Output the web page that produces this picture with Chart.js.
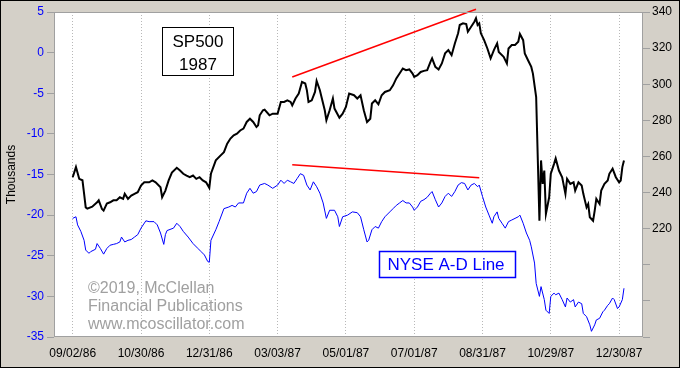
<!DOCTYPE html>
<html>
<head>
<meta charset="utf-8">
<script src="https://cdn.jsdelivr.net/npm/chart.js@4.4.1/dist/chart.umd.min.js"></script>
<style>
  html, body { margin: 0; padding: 0; background: #d4d0c8; }
  #wrap { width: 680px; height: 368px; }
</style>
</head>
<body>
<div id="wrap"><canvas id="chart" width="680" height="368"></canvas></div>
<script>
// x is a trading-day count from 09/02/86 (labels every 42 sessions)
const tickDays = [0, 42, 84, 126, 168, 210, 252, 294, 336]
const tickLabels = ['09/02/86', '10/30/86', '12/31/86', '03/03/87', '05/01/87',
  '07/01/87', '08/31/87', '10/29/87', '12/30/87']

// SP500 close (right axis)
const spDays = [
  0, 2, 4, 6, 7, 8, 9, 12, 15, 16, 18, 19, 21, 23, 25,
  27, 29, 31, 32, 34, 36, 38, 40, 42, 44, 47, 49, 51, 54, 55,
  57, 59, 61, 64, 66, 68, 70, 72, 74, 76, 78, 80, 82, 84, 85,
  88, 91, 93, 95, 97, 99, 101, 103, 105, 107, 109, 111, 113, 114, 115,
  117, 118, 121, 123, 126, 128, 130, 132, 134, 135, 137, 139, 141, 143, 144,
  145, 147, 149, 150, 152, 153, 155, 156, 158, 160, 161, 164, 166, 168, 170,
  173, 175, 177, 179, 181, 183, 184, 186, 188, 190, 192, 195, 197, 199, 201,
  203, 205, 207, 209, 210, 212, 214, 216, 218, 220, 221, 223, 225, 227, 229,
  231, 233, 235, 237, 238, 240, 242, 243, 245, 247, 248, 249, 250, 251, 253,
  255, 257, 259, 261, 262, 265, 267, 268, 270, 272, 274, 275, 277, 278, 280,
  282, 283, 285, 287, 288, 289, 290, 291, 293, 294, 296, 297, 299, 301, 303,
  304, 306, 308, 309, 311, 313, 314, 316, 317, 318, 320, 321, 322, 324, 325,
  327, 329, 330, 332, 334, 336, 337, 338, 339
]
const spClose = [
  248.5, 254.1, 247.6, 246.8, 239.4, 231.8, 231.1, 232.2, 234.6, 235.7, 230.9, 230.0, 233.9, 234.6, 235.7,
  235.7, 237.4, 236.5, 239.3, 236.5, 238.3, 239.3, 240.2, 243.9, 245.7, 245.7, 246.7, 245.7, 242.9, 237.4,
  241.1, 246.7, 251.1, 253.7, 252.2, 250.4, 249.4, 248.5, 249.4, 247.6, 248.5, 246.7, 245.7, 242.6, 250.4,
  257.8, 260.6, 262.4, 267.1, 269.9, 271.7, 272.6, 274.4, 275.4, 279.1, 280.9, 279.1, 276.3, 277.2, 282.8,
  285.6, 285.9, 282.8, 283.7, 283.7, 290.2, 290.2, 291.1, 290.2, 288.3, 292.1, 294.8, 301.3, 300.4, 296.7,
  290.2, 291.1, 295.7, 301.8, 296.7, 292.9, 285.6, 280.0, 285.6, 292.1, 286.5, 281.5, 283.7, 287.4, 294.8,
  293.9, 292.1, 293.9, 285.6, 279.1, 280.9, 289.3, 291.1, 288.9, 293.9, 295.7, 296.7, 299.4, 303.2, 305.9,
  308.7, 307.8, 308.2, 305.9, 304.1, 305.0, 306.8, 307.4, 307.8, 312.4, 314.3, 309.6, 308.2, 311.5, 317.1,
  318.9, 316.1, 322.6, 328.2, 332.8, 333.7, 333.3, 329.1, 331.8, 334.6, 336.5, 332.8, 333.7, 328.2, 324.4,
  319.8, 314.3, 318.9, 322.6, 317.9, 315.2, 311.5, 319.8, 321.7, 321.7, 323.5, 327.8, 324.4, 317.1, 313.3,
  309.6, 305.9, 292.9, 224.4, 257.8, 244.8, 252.2, 228.2, 237.4, 250.4, 255.9, 258.9, 252.2, 248.5, 239.3,
  247.6, 244.8, 245.7, 241.1, 245.7, 243.9, 239.3, 231.8, 233.7, 226.3, 224.4, 230.0, 236.5, 233.7, 241.1,
  244.8, 246.7, 250.4, 253.2, 248.5, 245.7, 246.7, 254.1, 257.8
]

// NYSE A-D line, thousands (left axis)
const adDays = [
  0, 2, 3, 5, 7, 8, 10, 11, 14, 15, 17, 19, 21, 23, 25,
  27, 29, 30, 32, 34, 36, 38, 40, 42, 45, 47, 50, 52, 54, 56,
  57, 58, 62, 64, 66, 68, 71, 74, 77, 79, 81, 83, 84, 85, 88,
  90, 93, 96, 98, 100, 102, 105, 107, 109, 111, 113, 115, 118, 120, 123,
  126, 128, 130, 132, 134, 136, 138, 140, 142, 144, 146, 148, 150, 152, 154,
  156, 158, 161, 163, 164, 166, 169, 172, 175, 177, 179, 181, 182, 184, 186,
  188, 190, 192, 195, 197, 199, 201, 203, 205, 207, 209, 210, 212, 214, 216,
  218, 220, 221, 223, 225, 227, 229, 231, 233, 235, 237, 239, 241, 243, 245,
  247, 249, 250, 252, 254, 256, 258, 259, 261, 262, 264, 266, 268, 270, 272,
  274, 275, 277, 279, 281, 282, 284, 285, 287, 288, 290, 291, 293, 294, 296,
  297, 299, 301, 303, 304, 306, 308, 309, 311, 313, 314, 316, 318, 319, 321,
  322, 324, 326, 327, 329, 330, 332, 333, 335, 336, 338, 339
]
const adLine = [
  -20.4, -20.2, -21.2, -22.0, -23.1, -24.3, -24.7, -24.5, -24.2, -23.5, -24.1, -24.8, -24.1, -23.7, -23.6,
  -23.5, -23.3, -22.7, -23.3, -23.1, -23.0, -22.7, -22.4, -21.6, -20.7, -20.8, -20.8, -21.2, -22.2, -23.6,
  -22.4, -21.9, -21.6, -21.0, -21.4, -22.0, -22.7, -23.5, -24.1, -24.5, -24.9, -25.7, -25.8, -23.1, -21.8,
  -20.8, -19.2, -19.0, -18.8, -19.0, -18.5, -18.5, -17.3, -16.7, -17.3, -17.1, -16.3, -16.1, -16.3, -16.7,
  -16.3, -15.7, -16.1, -15.7, -15.9, -16.1, -15.5, -14.9, -15.1, -16.3, -16.9, -15.9, -16.5, -17.3, -18.5,
  -20.4, -19.4, -19.4, -20.2, -21.4, -20.2, -20.0, -19.6, -19.7, -20.2, -21.8, -23.3, -23.1, -21.8, -21.4,
  -21.6, -20.8, -20.2, -19.6, -19.2, -18.8, -18.5, -18.2, -18.5, -18.5, -19.0, -19.4, -19.0, -18.3, -18.1,
  -17.8, -17.3, -17.1, -18.1, -19.0, -18.5, -17.7, -17.3, -17.7, -17.1, -16.3, -16.0, -16.1, -16.9, -16.3,
  -16.1, -16.5, -16.3, -17.7, -19.0, -20.0, -21.0, -20.2, -19.6, -20.4, -21.0, -21.6, -20.8, -20.6, -20.4,
  -20.2, -20.0, -21.0, -22.2, -23.1, -23.9, -25.9, -28.4, -30.0, -28.8, -30.4, -31.7, -32.1, -30.0, -29.6,
  -29.8, -29.6, -30.4, -31.3, -30.2, -30.7, -30.4, -31.3, -30.7, -30.9, -32.1, -32.5, -33.5, -34.3, -33.5,
  -32.9, -32.7, -31.9, -31.7, -31.1, -30.9, -30.2, -30.4, -31.5, -31.3, -30.4, -29.0
]

// divergence lines drawn on the chart
const spTrendDays = [135, 248]
const spTrendValues = [304, 341.5]
const adTrendDays = [135, 250]
const adTrendValues = [-13.8, -15.4]

const toPoints = (xs, ys) => xs.map((x, i) => ({ x: x, y: ys[i] }))

Chart.defaults.font.family = 'Arial, "Liberation Sans", sans-serif'
Chart.defaults.font.size = 12

const frame = {
  id: 'frame',
  beforeDraw(chart) {
    const { ctx, chartArea: a } = chart
    ctx.save()
    ctx.fillStyle = '#d4d0c8'
    ctx.fillRect(0, 0, chart.width, chart.height)
    ctx.fillStyle = '#ffffff'
    ctx.fillRect(a.left, a.top, a.right - a.left, a.bottom - a.top)
    ctx.restore()
  },
  afterDraw(chart) {
    const { ctx, chartArea: a } = chart
    ctx.save()
    // plot border
    ctx.strokeStyle = '#a0a0a0'
    ctx.lineWidth = 1
    ctx.strokeRect(a.left + 0.5, a.top + 0.5, a.right - a.left - 1, a.bottom - a.top - 1)
    // outer frame
    ctx.strokeStyle = '#000'
    ctx.strokeRect(0.5, 0.5, chart.width - 1, chart.height - 1)

    // SP500 1987 box
    ctx.fillStyle = '#fff'
    ctx.fillRect(162, 27, 71, 48)
    ctx.strokeStyle = '#000'
    ctx.strokeRect(162.5, 27.5, 71, 48)
    ctx.fillStyle = '#000'
    ctx.font = '17px Arial, "Liberation Sans", sans-serif'
    ctx.textAlign = 'center'
    ctx.textBaseline = 'alphabetic'
    ctx.fillText('SP500', 198, 47)
    ctx.fillText('1987', 198, 70)

    // NYSE A-D Line box
    ctx.fillStyle = '#fff'
    ctx.fillRect(379, 251, 137, 27)
    ctx.strokeStyle = '#0000ff'
    ctx.lineWidth = 1.5
    ctx.strokeRect(379.5, 251.5, 136, 26)
    ctx.fillStyle = '#0000ff'
    ctx.fillText('NYSE A-D Line', 446, 270)

    // copyright
    ctx.fillStyle = '#a0a0a0'
    ctx.font = '16px Arial, "Liberation Sans", sans-serif'
    ctx.textAlign = 'left'
    ctx.fillText('\u00a92019, McClellan', 88, 293)
    ctx.fillText('Financial Publications', 88, 311)
    ctx.fillText('www.mcoscillator.com', 88, 329)
    ctx.restore()
  }
}

new Chart(document.getElementById('chart'), {
  type: 'line',
  data: {
    datasets: [
      {
        label: 'SP500',
        data: toPoints(spDays, spClose),
        yAxisID: 'y1',
        borderColor: '#000000',
        borderWidth: 2,
        pointRadius: 0,
        tension: 0
      },
      {
        label: 'NYSE A-D Line',
        data: toPoints(adDays, adLine),
        yAxisID: 'y',
        borderColor: '#0000ff',
        borderWidth: 1,
        pointRadius: 0,
        tension: 0
      },
      {
        label: 'SP trend',
        data: toPoints(spTrendDays, spTrendValues),
        yAxisID: 'y1',
        borderColor: '#ff0000',
        borderWidth: 1.5,
        pointRadius: 0,
        clip: false
      },
      {
        label: 'A-D trend',
        data: toPoints(adTrendDays, adTrendValues),
        yAxisID: 'y',
        borderColor: '#ff0000',
        borderWidth: 1.5,
        pointRadius: 0
      }
    ]
  },
  options: {
    responsive: false,
    animation: false,
    devicePixelRatio: 1,
    layout: { padding: { top: 12, left: 0, right: 0, bottom: 0 } },
    plugins: { legend: { display: false }, tooltip: { enabled: false } },
    scales: {
      x: {
        type: 'linear',
        min: -11.5,
        max: 350.7,
        afterBuildTicks: (axis) => {
          axis.ticks = tickDays.map((d) => ({ value: d }))
        },
        afterFit: (scale) => { scale.height = 31 },
        grid: { color: '#b8b8b8', drawTicks: false },
        border: { display: false, dash: [1, 2] },
        ticks: {
          color: '#000',
          padding: 9,
          maxRotation: 0,
          autoSkip: false,
          callback: (v) => tickLabels[tickDays.indexOf(v)] || ''
        }
      },
      y: {
        position: 'left',
        min: -35,
        max: 5,
        afterFit: (scale) => { scale.width = 54 },
        grid: { drawOnChartArea: false, tickLength: 7, tickColor: '#a0a0a0' },
        border: { display: false },
        title: {
          display: true,
          text: 'Thousands',
          color: '#000',
          font: { size: 12 },
          padding: { top: 4, bottom: 0 }
        },
        ticks: { stepSize: 5, color: '#0000ff', padding: 3 }
      },
      y1: {
        position: 'right',
        min: 160,
        max: 340,
        afterFit: (scale) => { scale.width = 37 },
        grid: { drawOnChartArea: false, tickLength: 7, tickColor: '#a0a0a0' },
        border: { display: false },
        ticks: {
          stepSize: 20,
          color: '#000',
          padding: 2,
          callback: (v) => (v >= 220 ? v : '')
        }
      }
    }
  },
  plugins: [frame]
})
</script>
</body>
</html>
